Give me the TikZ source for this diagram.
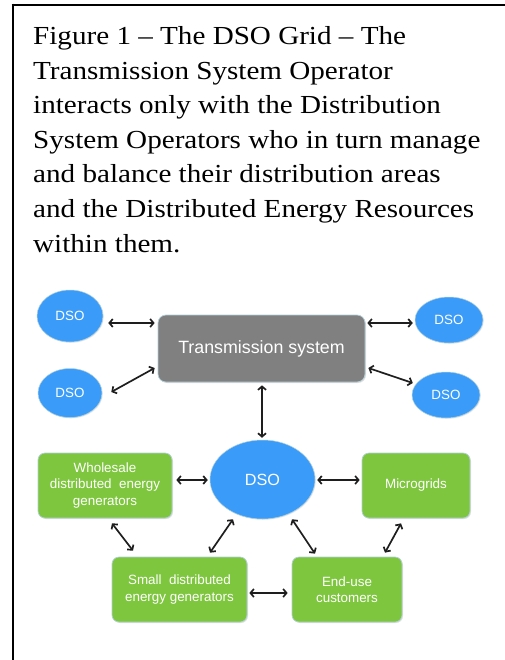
\documentclass[tikz,border=0pt]{standalone}
\usepackage{fontspec}
\setmainfont{Liberation Serif}
\newfontfamily\captionfont[FakeStretch=1.12]{Liberation Serif}
\newfontfamily\diagfont{Liberation Sans}
\usetikzlibrary{shapes.geometric,arrows.meta,shadows}

\definecolor{dsoblue}{RGB}{58,156,248}
\definecolor{dergreen}{RGB}{126,198,62}
\definecolor{tsgray}{RGB}{128,128,128}
\definecolor{edgeline}{RGB}{178,208,218}
\definecolor{arrowink}{RGB}{30,30,30}

\tikzset{
  captionline/.style={anchor=base west, inner sep=0pt, font=\captionfont\fontsize{26}{34.6}\selectfont},
  dsonode/.style={ellipse, fill=dsoblue, draw=edgeline, line width=0.5pt, inner sep=0pt,
    text=white, font=\diagfont\fontsize{13.4}{16}\selectfont,
    drop shadow={shadow xshift=0.8pt, shadow yshift=-0.8pt, opacity=0.2}},
  derbox/.style={rectangle, rounded corners=7pt, fill=dergreen, draw=edgeline, line width=0.7pt,
    inner sep=0pt, text=white, align=center, font=\diagfont\fontsize{13.4}{16.5}\selectfont,
    drop shadow={shadow xshift=1pt, shadow yshift=-1pt, opacity=0.25}},
  tsbox/.style={rectangle, rounded corners=8pt, fill=tsgray, draw=edgeline, line width=0.7pt,
    inner sep=0pt, text=white, font=\diagfont\fontsize{17.8}{20}\selectfont,
    drop shadow={shadow xshift=1pt, shadow yshift=-1pt, opacity=0.25}},
  link/.style={draw=arrowink, line width=1.7pt,
    {Straight Barb[length=3.4pt,width=8pt]}-{Straight Barb[length=3.4pt,width=8pt]}},
  frameline/.style={line width=2pt, black}
}

\begin{document}
\begin{tikzpicture}[x=1pt, y=-1pt]
  \useasboundingbox (0,0) rectangle (504,660);

  % page frame (top and left rules)
  \draw[frameline] (11.6,4.6) -- (505,4.6);
  \draw[frameline] (12.6,3.6) -- (12.6,661);

  % caption
  \node[captionline] (c1) at (33,44.5)  {Figure 1 – The DSO Grid – The};
  \node[captionline] (c2) at (33,79.1)  {Transmission System Operator};
  \node[captionline] (c3) at (33,113.7) {interacts only with the Distribution};
  \node[captionline] (c4) at (33,148.3) {System Operators who in turn manage};
  \node[captionline] (c5) at (33,182.9) {and balance their distribution areas};
  \node[captionline] (c6) at (33,217.5) {and the Distributed Energy Resources};
  \node[captionline] (c7) at (33,252.1) {within them.};

  % transmission level
  \node[tsbox, minimum width=207pt, minimum height=67pt] (ts) at (261.5,348.5) {Transmission system};
  \node[dsonode, minimum width=66pt, minimum height=52pt] (dtl) at (70,316) {DSO};
  \node[dsonode, minimum width=64pt, minimum height=49pt] (dbl) at (70,393) {DSO};
  \node[dsonode, minimum width=68pt, minimum height=46pt] (dtr) at (449,320) {DSO};
  \node[dsonode, minimum width=68pt, minimum height=46pt] (dbr) at (446,395) {DSO};

  % distribution level
  \node[dsonode, minimum width=105pt, minimum height=79pt, font=\diagfont\fontsize{16.2}{18}\selectfont] (dso) at (262.5,479.5) {DSO};
  \node[derbox, minimum width=134pt, minimum height=65pt] (whs) at (105,485.5) {Wholesale\\distributed\ \ energy\\generators};
  \node[derbox, minimum width=108pt, minimum height=65pt] (mic) at (416,485.5) {Microgrids};
  \node[derbox, minimum width=135pt, minimum height=65pt] (sml) at (179.5,589.5) {Small\ \ distributed\\energy generators};
  \node[derbox, minimum width=110pt, minimum height=65pt] (end) at (347,589.5) {End-use\\customers};

  % links
  \draw[link] ([shift={(5,7)}]dtl.east) -- ([shift={(-3,-25.5)}]ts.west);
  \draw[link] ([shift={(9,-1)}]dbl.east) -- ([shift={(-3,19.5)}]ts.west);
  \draw[link] ([shift={(2,-25.5)}]ts.east) -- ([shift={(-2,3)}]dtr.west);
  \draw[link] ([shift={(3,19.5)}]ts.east) -- ([shift={(1,-12)}]dbr.west);
  \draw[link] ([shift={(0.5,3)}]ts.south) -- ([shift={(-0.5,-2)}]dso.north);
  \draw[link] ([shift={(4,-5.5)}]whs.east) -- ([shift={(-2,0.5)}]dso.west);
  \draw[link] ([shift={(2,0.5)}]dso.east) -- ([shift={(-2,-5.5)}]mic.west);
  \draw[link] ([shift={(7,5)}]whs.south) -- ([shift={(-46.5,-6)}]sml.north);
  \draw[link] ([shift={(-29.5,0)}]dso.south) -- ([shift={(30.5,-4)}]sml.north);
  \draw[link] ([shift={(29.5,0)}]dso.south) -- ([shift={(-32,-3)}]end.north);
  \draw[link] ([shift={(-15,5)}]mic.south) -- ([shift={(38,-4)}]end.north);
  \draw[link] ([shift={(2,3.5)}]sml.east) -- ([shift={(-4,3.5)}]end.west);
\end{tikzpicture}
\end{document}
